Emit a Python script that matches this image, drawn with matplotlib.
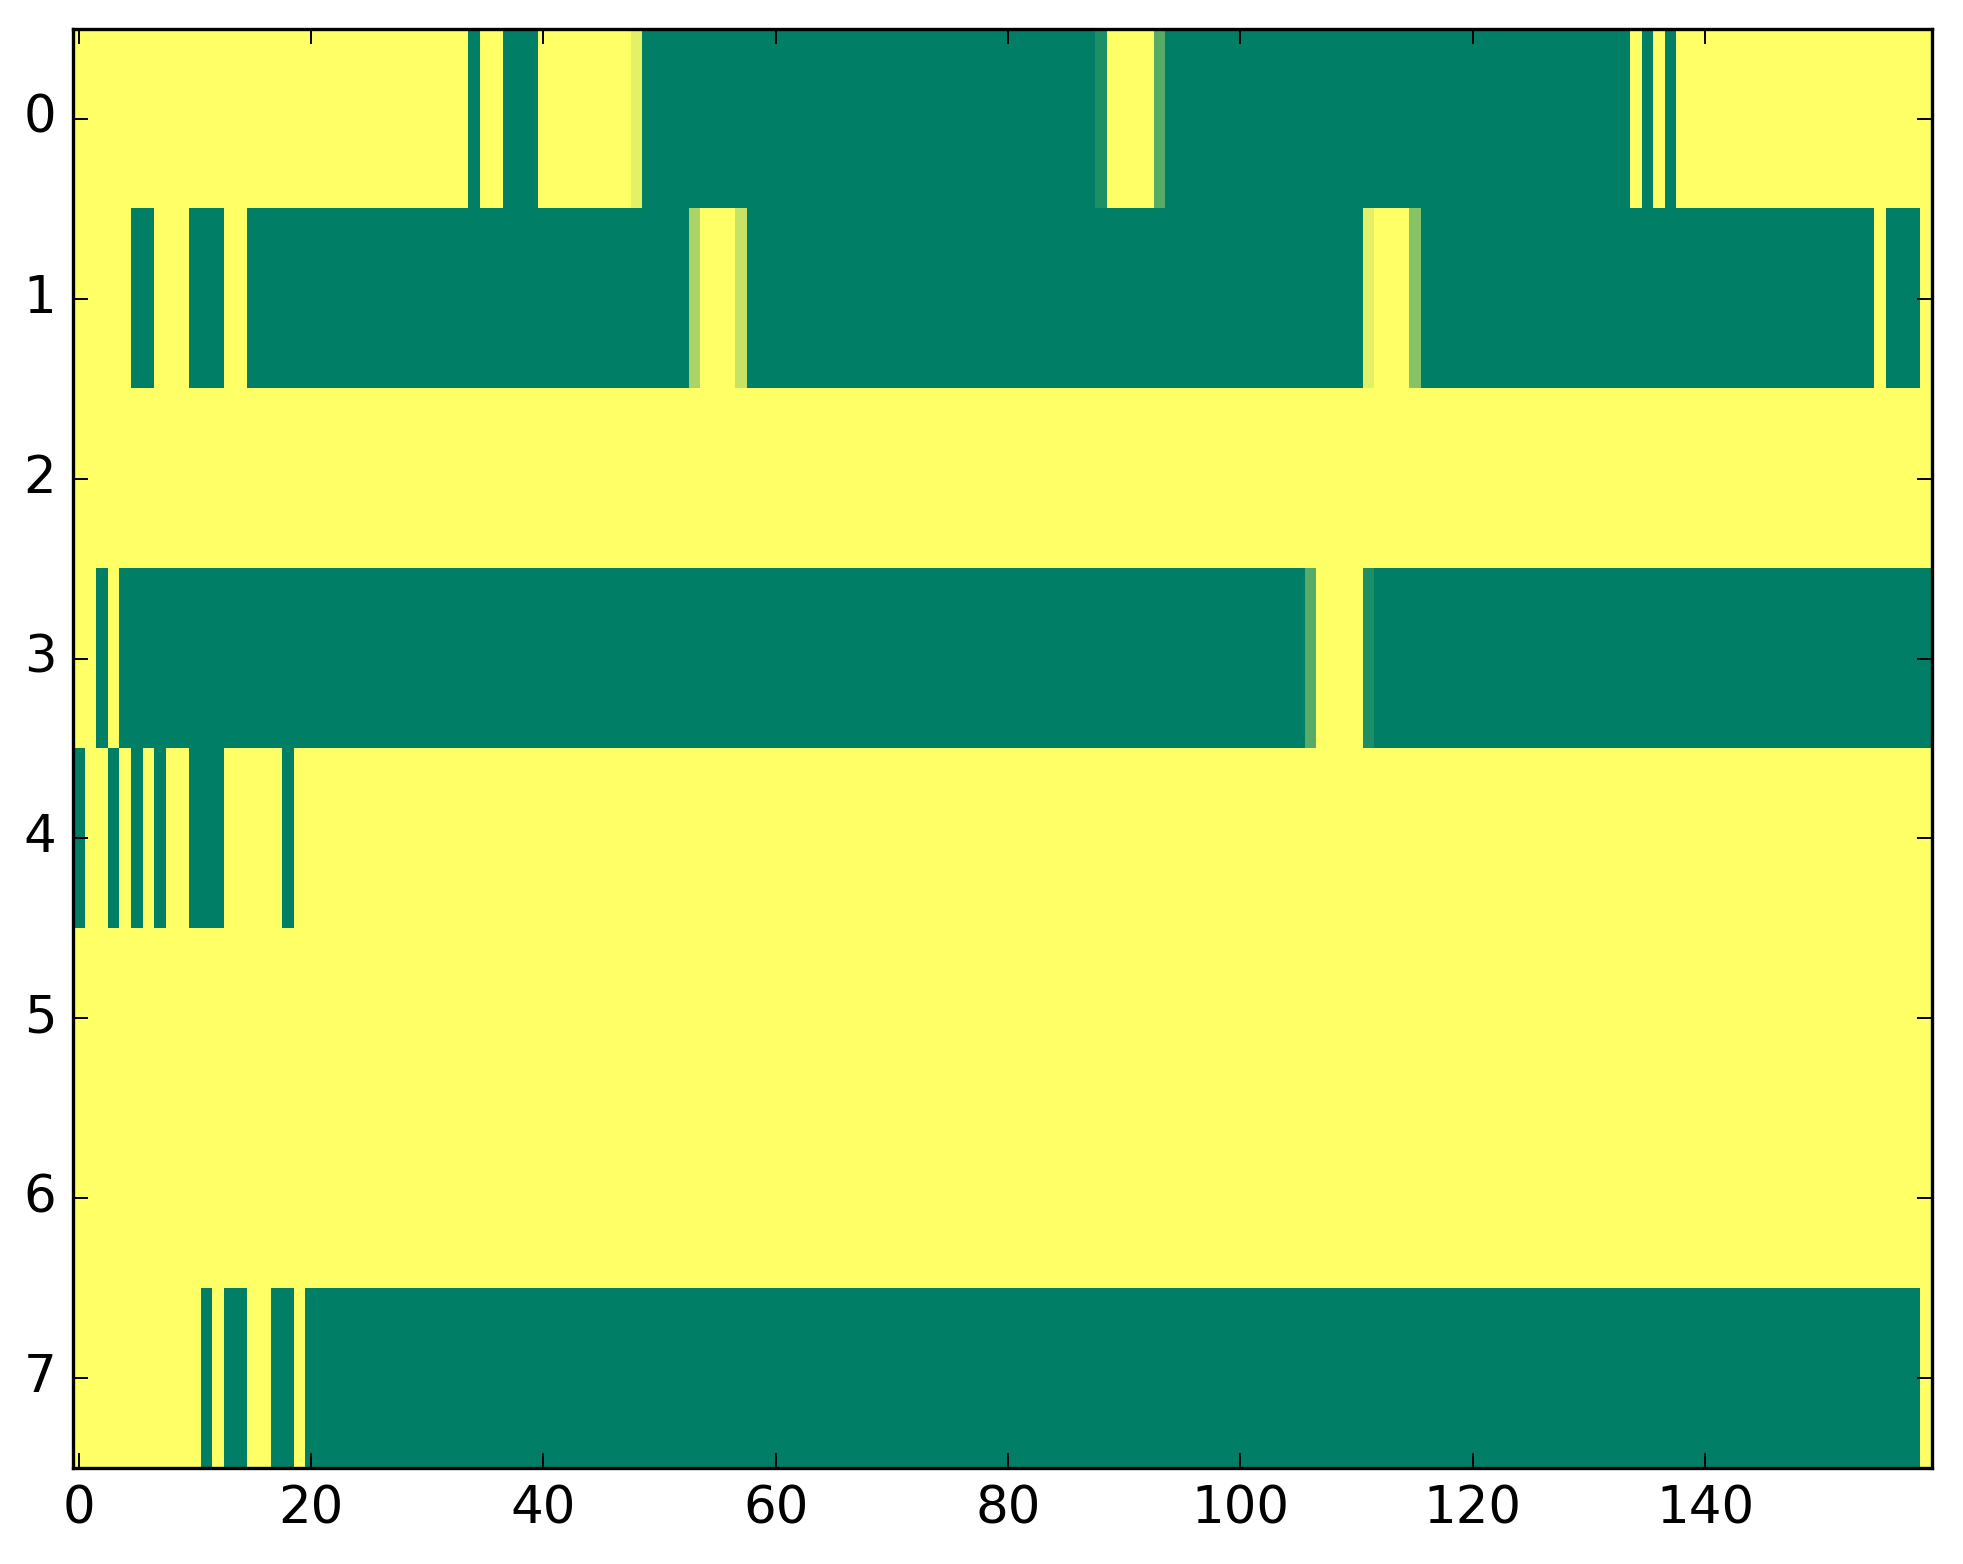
import numpy as np
import matplotlib
matplotlib.use("Agg")
from matplotlib import pyplot as plt

# each row as runs of (value, count), 160 columns per row
row0 = [(1, 34), (0, 1), (1, 2), (0, 3), (1, 8), (0.89, 1), (0, 39), (0.12, 1), (1, 4),
        (0.34, 1), (0, 40), (1, 1), (0, 1), (1, 1), (0, 1), (1, 22)]
row1 = [(1, 5), (0, 2), (1, 3), (0, 3), (1, 2), (0, 38), (0.67, 1), (1, 3), (0.78, 1),
        (0, 53), (0.88, 1), (1, 3), (0.53, 1), (0, 39), (1, 1), (0, 3), (1, 1)]
row2 = [(1, 160)]
row3 = [(1, 2), (0, 1), (1, 1), (0, 102), (0.34, 1), (1, 4), (0.12, 1), (0, 48)]
row4 = [(0, 1), (1, 2), (0, 1), (1, 1), (0, 1), (1, 1), (0, 1), (1, 2), (0, 3), (1, 5),
        (0, 1), (1, 141)]
row5 = [(1, 160)]
row6 = [(1, 160)]
row7 = [(1, 11), (0, 1), (1, 1), (0, 2), (1, 2), (0, 2), (1, 1), (0, 139), (1, 1)]

rows = [row0, row1, row2, row3, row4, row5, row6, row7]
xticks = [0, 20, 40, 60, 80, 100, 120, 140]
yticks = [0, 1, 2, 3, 4, 5, 6, 7]


def expand(runs):
    vals = []
    for v, n in runs:
        vals += [v] * n
    return vals


grid = np.array([expand(r) for r in rows])

plt.style.use("classic")
fig = plt.figure(figsize=(9.815, 7.82), dpi=200, facecolor="white")
ax = fig.add_axes([0.0372, 0.0614, 0.9468, 0.9201])
ax.imshow(grid, cmap="summer", vmin=0, vmax=1, aspect="auto", interpolation="nearest")

ax.set_xticks(xticks)
ax.set_yticks(yticks)
ax.set_xlim(-0.5, grid.shape[1] - 0.5)
ax.set_ylim(grid.shape[0] - 0.5, -0.5)
ax.tick_params(axis="both", which="major", direction="in", length=5.4, width=0.7,
               labelsize=18.5, pad=6, top=True, right=True)
for s in ax.spines.values():
    s.set_linewidth(1.2)

fig.savefig("out.png", dpi=200, facecolor="white")
